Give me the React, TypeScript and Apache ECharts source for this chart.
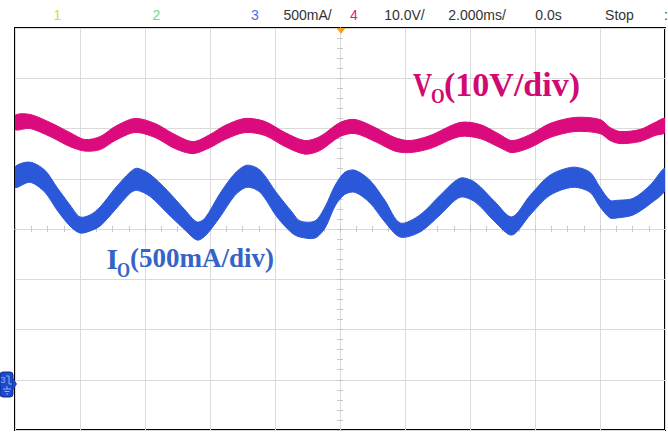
import React, { useEffect, useRef } from 'react';
import * as echarts from 'echarts';

// Time in ms (2 ms/div, trigger at 0), values in scope divisions (centre = 0)
const pinkTime = [-10, -9.54, -8.92, -8.31, -7.85, -7.38, -6.92, -6.31, -5.69, -5.08, -4.52, -4.0, -3.54, -2.92, -2.31, -1.69, -1.08, -0.62, 0.0, 0.46, 1.08, 1.69, 2.15, 2.77, 3.69, 4.31, 4.92, 5.29, 5.85, 6.46, 7.23, 8.0, 8.31, 8.62, 9.23, 9.69, 10];
const pinkTop = [2.26, 2.28, 2.12, 1.92, 1.78, 1.84, 2.04, 2.2, 2.1, 1.88, 1.74, 1.88, 2.06, 2.2, 2.14, 1.92, 1.76, 1.84, 2.12, 2.18, 2.02, 1.82, 1.76, 1.86, 2.12, 2.08, 1.88, 1.76, 1.88, 2.1, 2.22, 2.18, 2.02, 1.94, 1.98, 2.12, 2.2];
const pinkBottom = [1.98, 2.0, 1.84, 1.64, 1.55, 1.58, 1.76, 1.92, 1.82, 1.6, 1.5, 1.62, 1.78, 1.92, 1.86, 1.64, 1.49, 1.56, 1.84, 1.9, 1.74, 1.55, 1.52, 1.6, 1.84, 1.8, 1.62, 1.52, 1.62, 1.82, 1.94, 1.9, 1.76, 1.7, 1.74, 1.86, 1.92];

const blueTime = [-10, -9.54, -9.08, -8.71, -8.31, -8.0, -7.69, -7.38, -6.92, -6.46, -6.25, -5.85, -5.32, -4.77, -4.4, -4.15, -3.69, -3.23, -2.86, -2.46, -1.94, -1.48, -1.23, -0.77, -0.46, -0.15, 0.15, 0.46, 0.92, 1.38, 1.85, 2.46, 3.08, 3.69, 4.15, 4.77, 5.29, 5.85, 6.46, 7.17, 7.69, 8.0, 8.31, 8.52, 9.02, 9.54, 10];
const blueTop = [1.23, 1.33, 1.17, 0.83, 0.48, 0.24, 0.28, 0.44, 0.81, 1.13, 1.21, 1.09, 0.77, 0.38, 0.14, 0.22, 0.71, 1.11, 1.27, 1.17, 0.71, 0.34, 0.16, 0.16, 0.44, 0.87, 1.13, 1.17, 0.97, 0.57, 0.12, 0.28, 0.67, 1.01, 0.93, 0.54, 0.24, 0.67, 1.07, 1.23, 1.13, 0.83, 0.57, 0.57, 0.61, 0.87, 1.21];
const blueBottom = [0.83, 0.93, 0.73, 0.38, 0.06, -0.08, -0.04, 0.06, 0.38, 0.71, 0.77, 0.65, 0.32, -0.02, -0.22, -0.14, 0.24, 0.67, 0.83, 0.73, 0.24, -0.08, -0.16, -0.18, 0.02, 0.46, 0.69, 0.73, 0.52, 0.14, -0.16, -0.06, 0.28, 0.63, 0.54, 0.14, -0.12, 0.28, 0.67, 0.83, 0.73, 0.44, 0.22, 0.22, 0.28, 0.5, 0.77];

const headerTexts = ['1', '2', '3', '500mA/', '4', '10.0V/', '2.000ms/', '0.0s', 'Stop', ':'];
const vLabel = ['V', 'O', '(10V/div)'];
const iLabel = ['I', 'O', '(500mA/div)'];

const PINK = '#db0a7d';
const BLUE = '#2b58d9';

function bandRenderer(times: number[], top: number[], bottom: number[], color: string) {
  return (params: any, api: any) => {
    if (params.dataIndex !== 0) return null;
    const pts: number[][] = [];
    for (let i = 0; i < times.length; i++) pts.push(api.coord([times[i], top[i]]));
    for (let i = times.length - 1; i >= 0; i--) pts.push(api.coord([times[i], bottom[i]]));
    return {
      type: 'polygon',
      shape: { points: pts, smooth: 0.3 },
      style: { fill: color, stroke: color, lineWidth: 1 },
    };
  };
}

export default function App() {
  const ref = useRef<HTMLDivElement>(null);
  useEffect(() => {
    if (!ref.current) return;
    const chart = echarts.init(ref.current, undefined, { renderer: 'svg' });
    const gridColor = '#dadada';
    const tickColor = '#c8c8c8';
    const xBase = {
      type: 'value' as const,
      min: -10,
      max: 10,
      interval: 2,
      axisLabel: { show: false },
    };
    const yBase = {
      type: 'value' as const,
      min: -4,
      max: 4,
      interval: 1,
      axisLabel: { show: false },
    };
    const headerCols = ['#e0e000', '#6ee06e', '#4a6cf0', '#333', '#e0207f', '#333', '#333', '#333', '#333', '#333'];
    const headerX = [57.5, 156.5, 255, 307.5, 354, 404.5, 477, 548.5, 619.5, 666];
    const serif = 'Liberation Serif, Times New Roman, serif';
    const graphics: any[] = headerTexts.map((t, i) => ({
      type: 'text',
      x: headerX[i],
      y: 15,
      z: 50,
      style: {
        text: t,
        fill: headerCols[i],
        font: '14px "Liberation Sans", Arial, sans-serif',
        align: 'center',
        verticalAlign: 'middle',
      },
    }));
    graphics.push(
      // V_O label
      { type: 'text', z: 50, x: 413, y: 84, scaleX: 0.8, style: { text: vLabel[0], fill: '#d10a72', font: `bold 33px ${serif}`, verticalAlign: 'middle' } },
      { type: 'text', z: 50, x: 431, y: 95, scaleX: 0.8, style: { text: vLabel[1], fill: '#d10a72', font: `bold 22px ${serif}`, verticalAlign: 'middle' } },
      { type: 'text', z: 50, x: 444, y: 84, style: { text: vLabel[2], fill: '#d10a72', font: `bold 34px ${serif}`, verticalAlign: 'middle' } },
      // I_O label
      { type: 'text', z: 50, x: 106.5, y: 258, style: { text: iLabel[0], fill: '#3564c8', font: `bold 30px ${serif}`, verticalAlign: 'middle' } },
      { type: 'text', z: 50, x: 117, y: 270, scaleX: 0.8, style: { text: iLabel[1], fill: '#3564c8', font: `bold 21px ${serif}`, verticalAlign: 'middle' } },
      { type: 'text', z: 50, x: 130, y: 258, style: { text: iLabel[2], fill: '#3564c8', font: `bold 27px ${serif}`, verticalAlign: 'middle' } },
      // trigger marker
      { type: 'polygon', shape: { points: [[336.5, 28], [345.5, 28], [341, 34]] }, style: { fill: '#f5a21f' }, z: 100 },
      // channel 3 ground marker
      { type: 'rect', shape: { x: 0, y: 372, width: 13, height: 25, r: 3 }, style: { fill: '#1b49c9', stroke: '#0d2f95', lineWidth: 1 }, z: 100 },
      { type: 'polygon', shape: { points: [[13, 378], [17, 384], [13, 390]] }, style: { fill: '#1b49c9' }, z: 100 },
      { type: 'text', x: 0.5, y: 380, style: { text: '3', fill: '#8fb0ff', font: '9px "Liberation Sans", sans-serif', verticalAlign: 'middle' }, z: 101 },
      { type: 'polyline', shape: { points: [[6, 376], [9, 376], [9, 384], [12, 384]] }, style: { stroke: '#8fb0ff', lineWidth: 1, fill: null }, z: 101 },
      { type: 'polyline', shape: { points: [[7, 386], [7, 389]] }, style: { stroke: '#8fb0ff', lineWidth: 1 }, z: 101 },
      { type: 'polyline', shape: { points: [[3, 389], [11, 389]] }, style: { stroke: '#8fb0ff', lineWidth: 1 }, z: 101 },
      { type: 'polyline', shape: { points: [[4.5, 391.5], [9.5, 391.5]] }, style: { stroke: '#8fb0ff', lineWidth: 1 }, z: 101 },
      { type: 'polyline', shape: { points: [[6, 394], [8, 394]] }, style: { stroke: '#8fb0ff', lineWidth: 1 }, z: 101 }
    );

    chart.setOption({
      animation: false,
      backgroundColor: '#ffffff',
      grid: {
        left: 15,
        top: 28,
        right: 3,
        bottom: 2,
        show: true,
        borderColor: '#000000',
        borderWidth: 2,
        backgroundColor: 'transparent',
      },
      xAxis: [
        {
          ...xBase,
          position: 'bottom',
          axisLine: { show: true, onZero: true, onZeroAxisIndex: 0, lineStyle: { color: gridColor, width: 1 } },
          axisTick: { show: true, inside: true, length: 3, lineStyle: { color: tickColor } },
          minorTick: { show: true, splitNumber: 4, length: 3, lineStyle: { color: tickColor } },
          splitLine: { show: true, lineStyle: { color: gridColor, width: 1 } },
        },
        {
          ...xBase,
          position: 'bottom',
          axisLine: { show: true, onZero: true, onZeroAxisIndex: 0, lineStyle: { color: gridColor, width: 1 } },
          axisTick: { show: true, inside: false, length: 3, lineStyle: { color: tickColor } },
          minorTick: { show: true, splitNumber: 4, length: 3, lineStyle: { color: tickColor } },
          splitLine: { show: false },
        },
      ],
      yAxis: [
        {
          ...yBase,
          position: 'left',
          axisLine: { show: true, onZero: true, onZeroAxisIndex: 0, lineStyle: { color: gridColor, width: 1 } },
          axisTick: { show: true, inside: true, length: 3, lineStyle: { color: tickColor } },
          minorTick: { show: true, splitNumber: 5, length: 3, lineStyle: { color: tickColor } },
          splitLine: { show: true, lineStyle: { color: gridColor, width: 1 } },
        },
        {
          ...yBase,
          position: 'left',
          axisLine: { show: true, onZero: true, onZeroAxisIndex: 0, lineStyle: { color: gridColor, width: 1 } },
          axisTick: { show: true, inside: false, length: 3, lineStyle: { color: tickColor } },
          minorTick: { show: true, splitNumber: 5, length: 3, lineStyle: { color: tickColor } },
          splitLine: { show: false },
        },
      ],
      series: [
        {
          name: 'VO',
          type: 'custom',
          xAxisIndex: 0,
          yAxisIndex: 0,
          clip: true,
          silent: true,
          z: 5,
          data: [[pinkTime[0], pinkTop[0]]],
          encode: { x: 0, y: 1 },
          renderItem: bandRenderer(pinkTime, pinkTop, pinkBottom, PINK),
        },
        {
          name: 'IO',
          type: 'custom',
          xAxisIndex: 0,
          yAxisIndex: 0,
          clip: true,
          silent: true,
          z: 5,
          data: [[blueTime[0], blueTop[0]]],
          encode: { x: 0, y: 1 },
          renderItem: bandRenderer(blueTime, blueTop, blueBottom, BLUE),
        },
      ],
      graphic: graphics,
    });
    return () => chart.dispose();
  }, []);
  return (
    <div
      ref={ref}
      style={{ position: 'fixed', left: 0, top: 0, width: 668, height: 432, background: '#fff' }}
    />
  );
}
